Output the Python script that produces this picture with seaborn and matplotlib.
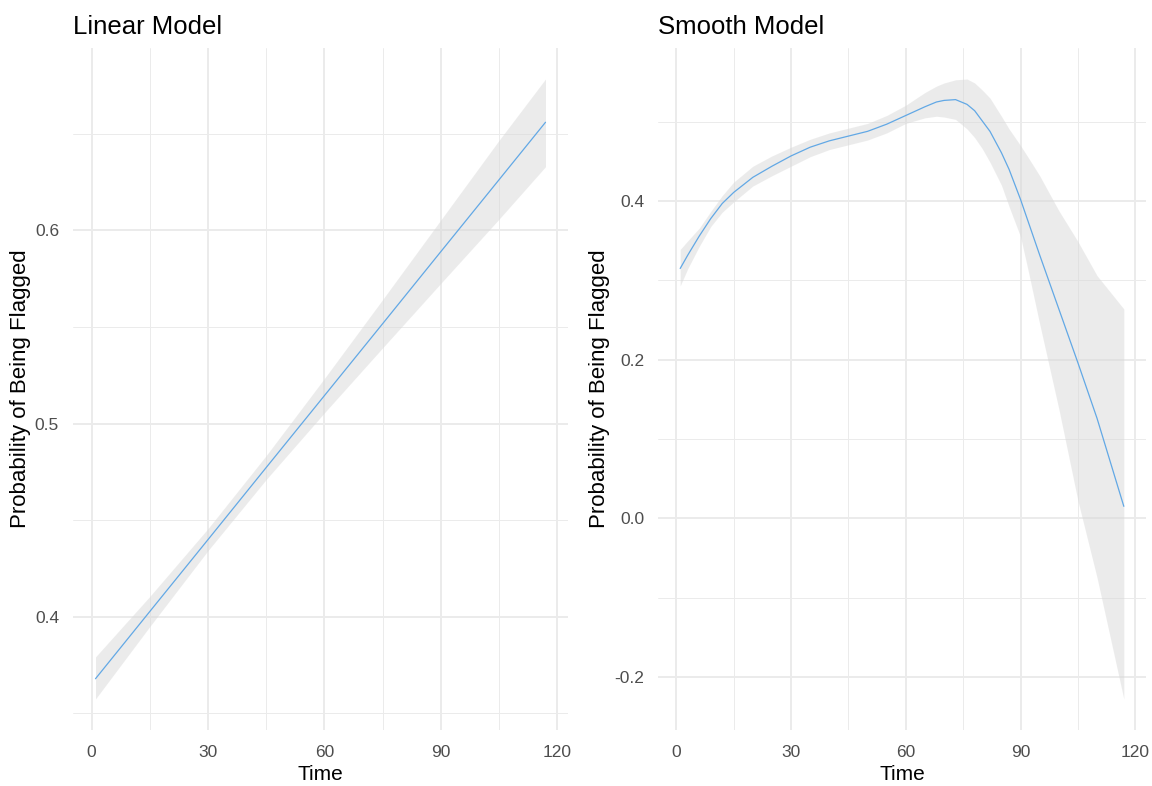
import numpy as np
import pandas as pd
import matplotlib
matplotlib.use("Agg")
import matplotlib.pyplot as plt
from matplotlib.ticker import FixedLocator, FixedFormatter
import seaborn as sns

# ---- Linear model (fit and 95% band) ----
lin_time = [1, 15, 30, 45, 60, 75, 90, 105, 117]
lin_fit = [0.368, 0.4028, 0.4400, 0.4773, 0.5145, 0.5517, 0.5890, 0.6262, 0.656]
lin_lower = [0.3575, 0.3950, 0.4343, 0.4711, 0.5056, 0.5392, 0.5726, 0.6058, 0.633]
lin_upper = [0.3793, 0.4106, 0.4457, 0.4835, 0.5234, 0.5642, 0.6054, 0.6466, 0.6784]

# ---- Smooth (loess) model ----
sm_time = [1, 3, 6, 9, 12, 15, 20, 25, 30, 35, 40, 45, 50, 55, 60, 65, 68, 70, 73, 76,
           78, 80, 82, 85, 87, 90, 92, 95, 100, 105, 110, 117]
sm_fit = [0.315, 0.332, 0.356, 0.378, 0.397, 0.411, 0.430, 0.444, 0.457, 0.468, 0.476,
          0.482, 0.488, 0.497, 0.508, 0.519, 0.525, 0.527, 0.528, 0.522,
          0.514, 0.501, 0.488, 0.461, 0.440, 0.402, 0.374,
          0.332, 0.264, 0.196, 0.126, 0.015]
sm_upper = [0.339, 0.350, 0.366, 0.387, 0.407, 0.424, 0.444, 0.457, 0.468, 0.478, 0.486,
            0.492, 0.498, 0.508, 0.521, 0.537, 0.545, 0.549, 0.553, 0.554,
            0.549, 0.540, 0.530, 0.507, 0.491, 0.470, 0.455,
            0.432, 0.388, 0.349, 0.306, 0.264]
sm_lower = [0.293, 0.315, 0.343, 0.368, 0.386, 0.399, 0.419, 0.432, 0.444, 0.456, 0.465,
            0.471, 0.477, 0.486, 0.498, 0.505, 0.507, 0.506, 0.503, 0.491,
            0.480, 0.466, 0.449, 0.420, 0.393, 0.355, 0.312,
            0.245, 0.138, 0.022, -0.075, -0.228]

x_ticks = [0, 30, 60, 90, 120]
x_minor = [15, 45, 75, 105]
lin_yticks = [0.4, 0.5, 0.6]
lin_ylabels = ["0.4", "0.5", "0.6"]
lin_yminor = [0.35, 0.45, 0.55, 0.65]
sm_yticks = [-0.2, 0.0, 0.2, 0.4]
sm_ylabels = ["-0.2", "0.0", "0.2", "0.4"]
sm_yminor = [-0.1, 0.1, 0.3, 0.5]

titles = ["Linear Model", "Smooth Model"]
xlab = "Time"
ylab = "Probability of Being Flagged"

sns.set_theme(style="white")
plt.rcParams["font.family"] = ["Liberation Sans", "DejaVu Sans"]

LINE = "#62A8E5"
GRID = "#ebebeb"
TICKC = "#4d4d4d"

fig = plt.figure(figsize=(11.52, 7.86), dpi=100)
ax1 = fig.add_axes([73 / 1152, 56 / 786, 495 / 1152, 682 / 786])
ax2 = fig.add_axes([658 / 1152, 56 / 786, 488 / 1152, 682 / 786])

panels = [
    (ax1, lin_time, lin_fit, lin_lower, lin_upper, lin_yticks, lin_ylabels, lin_yminor),
    (ax2, sm_time, sm_fit, sm_lower, sm_upper, sm_yticks, sm_ylabels, sm_yminor),
]

for i, (ax, t, f, lo, hi, yt, yl, ym) in enumerate(panels):
    df = pd.DataFrame({"Time": t, "fit": f, "lo": lo, "hi": hi})
    ax.fill_between(df["Time"], df["lo"], df["hi"], color="#d9d9d9", alpha=0.5,
                    linewidth=0, zorder=2)
    sns.lineplot(data=df, x="Time", y="fit", ax=ax, color=LINE, linewidth=0.9,
                 zorder=3, sort=False)
    # ggplot-style 5% expansion
    xr = max(t) - min(t)
    ax.set_xlim(min(t) - 0.05 * xr, max(t) + 0.05 * xr)
    ymin, ymax = min(lo), max(hi)
    yr = ymax - ymin
    ax.set_ylim(ymin - 0.05 * yr, ymax + 0.05 * yr)

    ax.xaxis.set_major_locator(FixedLocator(x_ticks))
    ax.xaxis.set_major_formatter(FixedFormatter([str(v) for v in x_ticks]))
    ax.xaxis.set_minor_locator(FixedLocator(x_minor))
    ax.yaxis.set_major_locator(FixedLocator(yt))
    ax.yaxis.set_major_formatter(FixedFormatter(yl))
    ax.yaxis.set_minor_locator(FixedLocator(ym))
    ax.grid(which="major", color=GRID, linewidth=1.4, zorder=0)
    ax.grid(which="minor", color=GRID, linewidth=0.7, zorder=0)
    ax.set_axisbelow(True)
    for s in ax.spines.values():
        s.set_visible(False)
    ax.tick_params(axis="both", which="both", length=0, labelsize=12.5,
                   labelcolor=TICKC)
    ax.tick_params(axis="x", pad=10.5)
    ax.tick_params(axis="y", pad=10)
    ax.set_xlabel(xlab, fontsize=15, color="black", labelpad=4)
    ax.set_ylabel(ylab, fontsize=16, color="black", labelpad=3)
    ax.set_title(titles[i], loc="left", fontsize=18.5, color="black", pad=10)

fig.savefig("out.png", dpi=100, facecolor="white")
